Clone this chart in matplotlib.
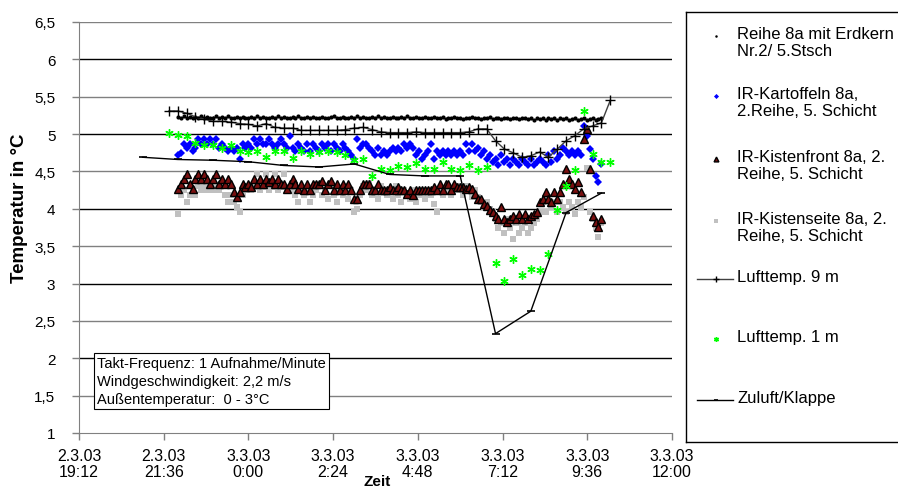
import numpy as np
import matplotlib
matplotlib.use('Agg')
import matplotlib.pyplot as plt

plt.rcParams['font.family'] = ['Liberation Sans', 'DejaVu Sans']

# time axis in hours counted from 2.3.03 0:00
tick_pos = [19.2, 21.6, 24.0, 26.4, 28.8, 31.2, 33.6, 36.0]
tick_labels = ['2.3.03\n19:12', '2.3.03\n21:36', '3.3.03\n0:00', '3.3.03\n2:24',
               '3.3.03\n4:48', '3.3.03\n7:12', '3.3.03\n9:36', '3.3.03\n12:00']
ytick_pos = [1, 1.5, 2, 2.5, 3, 3.5, 4, 4.5, 5, 5.5, 6, 6.5]
ytick_labels = ['1', '1,5', '2', '2,5', '3', '3,5', '4', '4,5', '5', '5,5', '6', '6,5']

# dense logger series: one reading every 5 minutes from 22:00 to 10:00
erdkern = [5.23, 5.21, 5.24, 5.22, 5.23, 5.21, 5.23, 5.22, 5.24, 5.21, 5.23, 5.22,
           5.22, 5.24, 5.21, 5.23, 5.22, 5.24, 5.21, 5.22, 5.23, 5.21, 5.23, 5.22,
           5.21, 5.23, 5.22, 5.24, 5.21, 5.23, 5.22, 5.21, 5.23, 5.22, 5.24, 5.21,
           5.23, 5.22, 5.21, 5.23, 5.22, 5.24, 5.21, 5.22, 5.23, 5.21, 5.23, 5.22,
           5.21, 5.23, 5.22, 5.21, 5.23, 5.24, 5.22, 5.21, 5.23, 5.22, 5.21, 5.23,
           5.22, 5.24, 5.21, 5.23, 5.22, 5.21, 5.23, 5.22, 5.24, 5.21, 5.23, 5.22,
           5.21, 5.23, 5.22, 5.21, 5.23, 5.22, 5.24, 5.21, 5.22, 5.23, 5.21, 5.22,
           5.23, 5.21, 5.22, 5.23, 5.21, 5.22, 5.23, 5.20, 5.22, 5.21, 5.23, 5.21,
           5.22, 5.20, 5.22, 5.21, 5.23, 5.21, 5.22, 5.20, 5.22, 5.21, 5.23, 5.20,
           5.21, 5.22, 5.20, 5.21, 5.22, 5.20, 5.21, 5.22, 5.20, 5.21, 5.22, 5.20,
           5.21, 5.19, 5.21, 5.20, 5.22, 5.19, 5.21, 5.20, 5.21, 5.19, 5.21, 5.20,
           5.21, 5.19, 5.20, 5.21, 5.19, 5.20, 5.21, 5.19, 5.20, 5.21, 5.19, 5.20, 5.21]

kartoffeln = [4.72, 4.75, 4.87, 4.82, 4.87, 4.77, 4.82, 4.93, 4.87, 4.93, 4.87, 4.93,
              4.87, 4.93, 4.82, 4.87, 4.82, 4.77, 4.82, 4.77, 4.82, 4.66, 4.87, 4.82,
              4.87, 4.82, 4.93, 4.87, 4.93, 4.87, 4.87, 4.93, 4.87, 4.82, 4.87, 4.93,
              4.87, 4.82, 4.98, 4.82, 4.77, 4.87, 4.82, 4.77, 4.87, 4.77, 4.87, 4.82,
              4.77, 4.87, 4.82, 4.87, 4.77, 4.87, 4.82, 4.77, 4.87, 4.82, 4.77, 4.72,
              4.66, 4.93, 4.82, 4.87, 4.87, 4.82, 4.77, 4.72, 4.82, 4.72, 4.77, 4.72,
              4.77, 4.82, 4.77, 4.82, 4.77, 4.87, 4.82, 4.87, 4.82, 4.72, 4.77, 4.66,
              4.72, 4.77, 4.87, 4.66, 4.77, 4.72, 4.77, 4.72, 4.77, 4.72, 4.77, 4.72,
              4.77, 4.72, 4.87, 4.77, 4.87, 4.77, 4.82, 4.72, 4.77, 4.66, 4.72, 4.62,
              4.66, 4.58, 4.72, 4.62, 4.66, 4.58, 4.66, 4.62, 4.58, 4.66, 4.62, 4.58,
              4.66, 4.58, 4.62, 4.66, 4.62, 4.58, 4.72, 4.62, 4.77, 4.66, 4.72, 4.82,
              4.77, 4.72, 4.77, 4.72, 4.77, 4.72, 5.11, 4.98, 4.80, 4.66, 4.44, 4.36, 4.60]

kistenfront = [4.27, 4.33, 4.40, 4.47, 4.33, 4.27, 4.40, 4.47, 4.40, 4.47, 4.40, 4.33,
               4.40, 4.47, 4.33, 4.40, 4.33, 4.40, 4.33, 4.23, 4.16, 4.23, 4.33, 4.29,
               4.33, 4.29, 4.40, 4.33, 4.40, 4.33, 4.40, 4.36, 4.40, 4.33, 4.40, 4.33,
               4.33, 4.27, 4.33, 4.40, 4.33, 4.27, 4.33, 4.25, 4.33, 4.25, 4.33, 4.33,
               4.33, 4.37, 4.25, 4.33, 4.37, 4.25, 4.33, 4.25, 4.33, 4.25, 4.33, 4.25,
               4.13, 4.13, 4.25, 4.33, 4.33, 4.33, 4.25, 4.25, 4.33, 4.25, 4.25, 4.25,
               4.29, 4.25, 4.25, 4.29, 4.25, 4.25, 4.20, 4.25, 4.19, 4.25, 4.25, 4.25,
               4.25, 4.25, 4.25, 4.29, 4.25, 4.33, 4.25, 4.33, 4.33, 4.25, 4.33, 4.29,
               4.29, 4.29, 4.27, 4.29, 4.27, 4.20, 4.13, 4.13, 4.07, 4.04, 3.98, 3.96,
               3.90, 3.87, 4.03, 3.87, 3.82, 3.87, 3.90, 3.87, 3.93, 3.87, 3.93, 3.87,
               3.90, 3.93, 3.96, 4.09, 4.13, 4.22, 4.13, 4.09, 4.22, 4.13, 4.22, 4.33,
               4.53, 4.40, 4.33, 4.27, 4.36, 4.22, 4.94, 5.07, 4.53, 3.90, 3.82, 3.76, 3.87]

kistenseite = [3.93, 4.19, 4.25, 4.09, 4.19, 4.25, 4.19, 4.31, 4.25, 4.31, 4.25, 4.31,
               4.25, 4.31, 4.25, 4.31, 4.19, 4.09, 4.19, 4.09, 4.03, 3.96, 4.19, 4.25,
               4.29, 4.25, 4.29, 4.47, 4.25, 4.29, 4.47, 4.25, 4.29, 4.47, 4.25, 4.29,
               4.47, 4.25, 4.29, 4.25, 4.19, 4.09, 4.25, 4.19, 4.25, 4.09, 4.19, 4.25,
               4.31, 4.19, 4.25, 4.13, 4.31, 4.19, 4.09, 4.25, 4.19, 4.31, 4.13, 4.25,
               3.96, 4.00, 4.19, 4.31, 4.25, 4.35, 4.19, 4.25, 4.13, 4.31, 4.25, 4.19,
               4.25, 4.13, 4.31, 4.19, 4.09, 4.25, 4.19, 4.13, 4.25, 4.09, 4.19, 4.25,
               4.13, 4.25, 4.19, 4.07, 3.96, 4.25, 4.19, 4.25, 4.31, 4.19, 4.25, 4.31,
               4.25, 4.19, 4.31, 4.25, 4.16, 4.25, 4.16, 4.09, 4.03, 4.09, 4.00, 3.96,
               3.87, 3.74, 3.81, 3.67, 3.87, 3.74, 3.60, 3.81, 3.67, 3.74, 3.81, 3.67,
               3.74, 3.81, 3.87, 3.96, 4.09, 3.96, 4.16, 4.03, 4.09, 3.96, 4.09, 4.03,
               3.96, 4.09, 4.03, 3.93, 4.09, 4.03, 4.16, 4.55, 3.96, 3.87, 3.74, 3.62, 3.81]

# air temperatures, every 15 minutes from 21:45
luft_9m = [5.31, 5.31, 5.28, 5.23, 5.20, 5.17, 5.17, 5.16, 5.14, 5.13, 5.11, 5.14,
           5.09, 5.08, 5.08, 5.05, 5.05, 5.05, 5.05, 5.05, 5.06, 5.08, 5.09, 5.06,
           5.03, 5.02, 5.02, 5.02, 5.03, 5.02, 5.02, 5.02, 5.02, 5.02, 5.03, 5.07,
           5.07, 4.91, 4.80, 4.75, 4.69, 4.71, 4.76, 4.69, 4.80, 4.91, 4.98, 5.07,
           5.11, 5.15, 5.45]
luft_1m = [5.01, 4.99, 4.98, 4.88, 4.86, 4.86, 4.81, 4.85, 4.78, 4.76, 4.77, 4.69,
           4.77, 4.77, 4.68, 4.77, 4.73, 4.76, 4.78, 4.76, 4.72, 4.65, 4.66, 4.44,
           4.53, 4.52, 4.57, 4.56, 4.61, 4.53, 4.53, 4.63, 4.53, 4.52, 4.58, 4.52,
           4.56, 3.27, 3.03, 3.33, 3.11, 3.20, 3.18, 3.40, 3.99, 4.31, 4.52, 5.31,
           4.74, 4.63, 4.63]

# supply air / flap, hourly from 21:00
zuluft_t = [21, 22, 23, 24, 25, 26, 27, 28, 29, 30, 31, 32, 33, 34]
zuluft = [4.69, 4.66, 4.65, 4.63, 4.58, 4.56, 4.60, 4.46, 4.44, 4.44, 2.33, 2.63, 3.95, 4.21]

t_dense = 22 + np.arange(len(kartoffeln)) / 12
t_luft = 21.75 + np.arange(len(luft_9m)) * 0.25

erd_style = dict(ls='none', marker='o', ms=3.0, color='black', mew=0)
kart_style = dict(ls='none', marker='D', ms=4.3, color='#0000ff', mew=0)
front_style = dict(ls='none', marker='^', ms=5.8, mfc='#7a1010', mec='black', mew=1.0)
seite_style = dict(ls='none', marker='s', ms=4.2, color='#c0c0c0', mew=0)
l9_style = dict(ls='-', lw=1, color='#404040', marker='+', ms=7, mew=1, mec='black')
l1_style = dict(ls='none', marker=(6, 2, 0), ms=6, color='#00ff00', mew=1)
zu_style = dict(ls='-', lw=1, color='black', marker='_', ms=6, mew=1.2)

fig = plt.figure(figsize=(8.98, 4.89), dpi=100)
ax = fig.add_axes([79 / 898, 55 / 489, 593 / 898, 411 / 489])

for y in ytick_pos[1:]:
    col = 'black' if float(y).is_integer() else '#808080'
    ax.axhline(y, color=col, lw=1, zorder=0)

ax.plot(t_dense, erdkern, **erd_style)
ax.plot(t_dense, kartoffeln, **kart_style)
ax.plot(t_dense, kistenseite, **seite_style)
ax.plot(t_dense, kistenfront, **front_style)
ax.plot(t_luft, luft_9m, **l9_style)
ax.plot(t_luft, luft_1m, **l1_style)
ax.plot(zuluft_t, zuluft, **zu_style)

ax.set_xlim(19.2, 36)
ax.set_ylim(1, 6.5)
ax.set_xticks(tick_pos)
ax.set_xticklabels(tick_labels, fontsize=11.5, linespacing=1.1)
ax.set_yticks(ytick_pos)
ax.set_yticklabels(ytick_labels, fontsize=11)
ax.tick_params(axis='both', direction='out', color='#808080', length=5, width=1)
ax.tick_params(axis='y', pad=12)
ax.tick_params(axis='x', pad=6)
for s in ['top', 'right']:
    ax.spines[s].set_visible(False)
for s in ['left', 'bottom']:
    ax.spines[s].set_color('#808080')

fig.text(20 / 898, 1 - 208 / 489, 'Temperatur in °C', rotation=90, ha='center',
         va='center', fontsize=13.5, fontweight='bold')
fig.text(377 / 898, 1 - 475 / 489, 'Zeit', ha='center', va='top', fontsize=11,
         fontweight='bold')

fig.text(97 / 898, 1 - 382 / 489,
         'Takt-Frequenz: 1 Aufnahme/Minute\nWindgeschwindigkeit: 2,2 m/s\nAußentemperatur:  0 - 3°C',
         ha='left', va='center', fontsize=10.5, linespacing=1.4,
         bbox=dict(boxstyle='square,pad=0.2', fc='white', ec='black', lw=0.8))

# legend drawn in its own panel, one entry per series
lax = fig.add_axes([686 / 898, 46 / 489, 220 / 898, 430 / 489])
lax.set_xlim(686, 906)
lax.set_ylim(443, 13)
lax.set_xticks([])
lax.set_yticks([])
for s in lax.spines.values():
    s.set_color('black')
    s.set_linewidth(1)

entries = [
    (37, 'Reihe 8a mit Erdkern\nNr.2/ 5.Stsch', erd_style, False),
    (97, 'IR-Kartoffeln 8a,\n2.Reihe, 5. Schicht', kart_style, False),
    (160, 'IR-Kistenfront 8a, 2.\nReihe, 5. Schicht', front_style, False),
    (222, 'IR-Kistenseite 8a, 2.\nReihe, 5. Schicht', seite_style, False),
    (280, 'Lufttemp. 9 m', l9_style, True),
    (340, 'Lufttemp. 1 m', l1_style, False),
    (401, 'Zuluft/Klappe', zu_style, True),
]
for y, label, style, is_line in entries:
    st = dict(style)
    if 'ms' in st:
        st['ms'] = st['ms'] * 0.6
    if is_line:
        lax.plot([697, 716, 733], [y, y, y], markevery=[1], **st)
    else:
        lax.plot([716], [y], **st)
    lax.text(737, y - 10, label, ha='left', va='top', fontsize=12, linespacing=1.15)

fig.savefig('out.png', dpi=100)
